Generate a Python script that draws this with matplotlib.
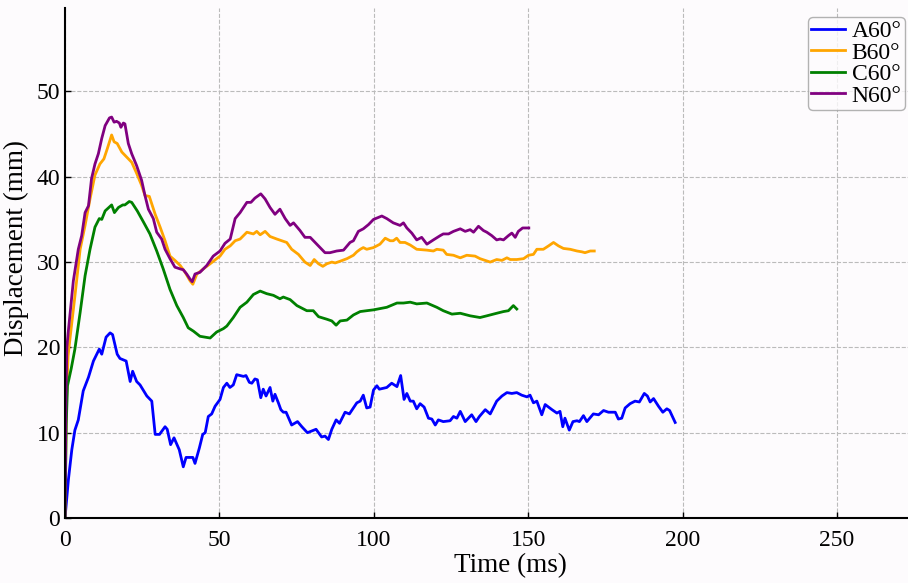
import matplotlib.pyplot as plt

# Curvas (tempo em ms, deslocamento em mm)
t_a = [0, 1.1, 2.2, 3.2, 4.3, 5.9, 7.6, 9.2, 11.1, 11.9, 13.3, 14.6, 15.4, 16.9, 17.8, 19.8,
       21.1, 21.9, 23.2, 24.3, 26.5, 28.1, 29.2, 30.6, 32.4, 33.1, 34.2, 35.3, 37.0, 38.3,
       39.2, 41.4, 42.1, 43.5, 44.6, 45.4, 46.4, 47.5, 48.6, 50.2, 51.3, 52.4, 53.4, 54.5,
       55.6, 56.7, 57.8, 58.6, 59.7, 60.5, 61.5, 62.3, 63.4, 64.2, 65.1, 66.4, 67.3, 68.0,
       69.1, 69.9, 70.7, 71.6, 73.4, 75.3, 76.7, 78.5, 81.3, 83.1, 84.2, 85.3, 86.4, 87.8,
       88.9, 90.7, 92.1, 94.5, 95.6, 96.6, 97.7, 98.8, 99.9, 101.0, 101.8, 104.2, 105.8,
       107.5, 108.7, 109.8, 110.7, 111.8, 112.8, 113.9, 115.0, 116.3, 117.7, 118.8, 119.9,
       120.9, 122.5, 124.7, 125.8, 126.9, 128.0, 129.6, 131.7, 133.1, 134.2, 136.1, 137.7,
       139.8, 141.5, 143.1, 144.7, 146.3, 147.9, 149.6, 150.6, 151.7, 152.8, 154.4, 155.5,
       157.7, 159.3, 160.3, 161.2, 161.9, 163.3, 164.5, 165.8, 166.6, 167.9, 169.0, 171.1,
       172.8, 174.4, 176.0, 178.2, 179.2, 180.3, 181.4, 183.0, 184.6, 186.0, 187.6, 188.6,
       189.5, 190.6, 192.2, 193.6, 194.9, 195.8, 197.6]
a60 = [0, 4.5, 8.0, 10.3, 11.5, 14.9, 16.5, 18.4, 19.8, 19.2, 21.2, 21.7, 21.5, 19.2, 18.7, 18.4,
       16.0, 17.2, 16.0, 15.6, 14.3, 13.7, 9.8, 9.8, 10.7, 10.4, 8.6, 9.4, 8.0, 6.0,
       7.1, 7.1, 6.4, 8.2, 9.8, 10.0, 11.9, 12.2, 13.1, 13.9, 15.3, 15.8, 15.3, 15.6,
       16.8, 16.7, 16.6, 16.7, 15.9, 15.8, 16.3, 16.2, 14.1, 15.1, 14.3, 15.3, 13.7, 14.5,
       13.5, 12.7, 12.4, 12.4, 10.9, 11.3, 10.7, 10.0, 10.4, 9.5, 9.6, 9.2, 10.4, 11.5,
       11.1, 12.4, 12.2, 13.5, 13.7, 14.4, 12.9, 13.0, 15.0, 15.5, 15.1, 15.3, 15.8,
       15.4, 16.7, 13.9, 14.6, 13.7, 13.7, 12.8, 13.4, 13.0, 11.7, 11.6, 10.9,
       11.5, 11.3, 11.4, 11.9, 11.7, 12.5, 11.3, 12.1, 11.3, 11.9, 12.7, 12.2,
       13.7, 14.3, 14.7, 14.6, 14.7, 14.4, 14.2, 14.4, 13.5, 13.7, 12.1, 13.3,
       12.7, 12.3, 12.5, 10.7, 11.7, 10.3, 11.3, 11.4, 11.3, 12.0, 11.3, 12.2,
       12.1, 12.6, 12.4, 12.4, 11.6, 11.7, 12.9, 13.4, 13.7, 13.6, 14.6, 14.3,
       13.6, 14.0, 13.1, 12.4, 12.8, 12.6, 11.2]

t_b = [0, 0.4, 1.0, 1.6, 3.2, 4.9, 6.5, 8.1, 9.7, 11.3, 12.6, 13.7, 15.1, 15.9, 16.9, 18.4,
       20.0, 21.6, 23.2, 24.8, 25.9, 27.3, 29.2, 30.8, 32.4, 34.0, 35.6, 37.3, 38.9, 40.5,
       41.4, 42.7, 44.8, 47.0, 49.1, 50.2, 51.8, 53.5, 55.1, 56.7, 58.9, 61.0, 62.1, 63.2,
       64.8, 66.4, 68.6, 70.2, 71.8, 73.4, 75.6, 77.7, 79.4, 80.7, 82.1, 83.5, 84.8, 86.4,
       87.5, 89.1, 91.3, 93.4, 94.5, 95.6, 96.6, 97.7, 99.9, 102.0, 103.7, 105.3, 106.3,
       107.4, 108.5, 110.1, 111.8, 113.9, 117.2, 119.3, 120.4, 122.5, 123.6, 125.8, 128.0,
       130.1, 132.8, 134.4, 137.7, 139.8, 141.5, 143.1, 144.2, 146.3, 148.5, 150.1, 151.7,
       152.8, 154.9, 156.6, 158.2, 159.8, 161.4, 163.6, 165.8, 167.4, 168.4, 170.1, 171.4]
b60 = [0, 13.0, 19.0, 21.0, 26.0, 31.5, 34.3, 37.4, 40.2, 41.5, 42.1, 43.3, 44.9, 44.1, 43.9, 42.9,
       42.3, 41.7, 40.4, 39.0, 37.8, 37.7, 35.6, 34.1, 32.5, 30.7, 30.2, 29.6, 28.8, 27.8,
       27.4, 28.6, 29.2, 29.8, 30.4, 30.7, 31.5, 31.9, 32.5, 32.7, 33.5, 33.3, 33.6, 33.2,
       33.6, 33.0, 32.7, 32.5, 32.3, 31.5, 30.9, 30.0, 29.6, 30.3, 29.8, 29.5, 29.8, 30.0,
       29.9, 30.1, 30.4, 30.8, 31.2, 31.5, 31.7, 31.5, 31.7, 32.1, 32.8, 32.5, 32.5,
       32.8, 32.3, 32.3, 32.0, 31.5, 31.4, 31.3, 31.5, 31.4, 30.9, 30.8, 30.5,
       30.8, 30.7, 30.4, 30.0, 30.3, 30.2, 30.5, 30.3, 30.3, 30.4, 30.8, 30.9,
       31.5, 31.5, 31.9, 32.3, 31.9, 31.6, 31.5, 31.3, 31.2, 31.1, 31.3, 31.3]

t_c = [0, 0.4, 0.8, 2.0, 3.2, 4.9, 6.5, 8.1, 9.7, 11.1, 11.9, 13.0, 15.1, 16.0, 17.3, 18.7,
       19.4, 20.8, 21.6, 23.4, 25.4, 27.5, 29.7, 31.8, 34.0, 36.2, 38.3, 39.9, 41.6, 43.7,
       47.0, 49.1, 51.3, 52.4, 54.5, 56.7, 58.9, 61.0, 63.2, 65.3, 67.5, 69.6, 70.7, 72.9,
       75.1, 78.3, 80.4, 82.1, 84.8, 86.4, 87.8, 89.1, 91.3, 93.4, 95.6, 97.7, 99.9, 104.2,
       107.5, 109.6, 111.8, 113.9, 117.2, 120.4, 122.5, 125.3, 128.0, 131.2, 134.4, 136.6,
       139.8, 142.0, 143.6, 145.2, 146.3]
c60 = [0, 11.0, 15.5, 17.5, 19.8, 24.1, 28.4, 31.5, 34.1, 35.1, 35.0, 36.0, 36.7, 35.8, 36.4, 36.7,
       36.7, 37.1, 37.0, 36.0, 34.7, 33.3, 31.3, 29.2, 26.8, 24.9, 23.5, 22.3, 21.9, 21.3,
       21.1, 21.8, 22.2, 22.5, 23.5, 24.7, 25.3, 26.2, 26.6, 26.3, 26.1, 25.7, 25.9, 25.6,
       24.9, 24.3, 24.3, 23.6, 23.3, 23.1, 22.6, 23.1, 23.2, 23.8, 24.2, 24.3, 24.4, 24.7,
       25.2, 25.2, 25.3, 25.1, 25.2, 24.7, 24.3, 23.9, 24.0, 23.7, 23.5, 23.7,
       24.0, 24.2, 24.3, 24.9, 24.5]

t_n = [0, 0.3, 0.6, 1.1, 2.7, 4.3, 5.4, 6.5, 7.6, 8.6, 9.7, 10.8, 11.9, 13.0, 14.4, 15.1, 15.9,
       16.7, 17.6, 18.1, 18.9, 19.4, 20.5, 21.6, 23.2, 24.8, 25.9, 27.0, 28.6, 29.7, 31.3,
       32.4, 34.0, 35.6, 37.3, 38.3, 39.4, 40.5, 41.2, 42.1, 43.7, 45.9, 48.0, 50.2, 51.8,
       53.5, 55.1, 56.7, 58.9, 60.2, 61.5, 63.4, 64.8, 66.4, 68.0, 69.6, 71.3, 72.9, 74.0,
       76.1, 77.7, 79.4, 81.0, 82.6, 84.2, 85.8, 88.0, 90.2, 92.3, 93.4, 95.0, 96.6, 98.3,
       99.9, 102.6, 104.2, 106.3, 108.5, 109.6, 110.7, 112.3, 113.9, 115.5, 117.2, 119.3,
       121.5, 122.5, 124.2, 125.8, 128.0, 129.6, 131.2, 132.3, 133.9, 135.5, 136.6, 138.2,
       139.8, 140.9, 142.0, 143.6, 144.7, 145.8, 146.8, 148.2, 150.2]
n60 = [0, 14.0, 20.0, 22.0, 27.8, 31.5, 33.1, 35.8, 36.6, 39.8, 41.5, 42.7, 44.5, 46.0, 46.9, 47.0, 46.4,
       46.5, 46.3, 45.8, 46.3, 46.2, 43.9, 42.7, 41.3, 39.6, 37.8, 36.2, 35.1, 33.5, 32.7,
       31.5, 30.4, 29.4, 29.2, 29.1, 28.6, 28.0, 27.7, 28.6, 28.8, 29.6, 30.7, 31.3, 32.2,
       32.7, 35.1, 35.8, 37.0, 37.0, 37.5, 38.0, 37.4, 36.4, 35.6, 36.2, 35.1, 34.3, 34.6,
       33.7, 32.9, 32.9, 32.3, 31.7, 31.1, 31.1, 31.3, 31.4, 32.3, 32.5, 33.6, 33.9, 34.4,
       35.0, 35.4, 35.1, 34.6, 34.3, 34.6, 34.0, 33.4, 32.6, 32.9, 32.1, 32.6,
       33.1, 33.3, 33.3, 33.6, 33.9, 33.6, 33.8, 33.5, 34.2, 33.7, 33.5, 33.1,
       32.6, 32.7, 32.6, 33.1, 33.4, 32.9, 33.6, 34.0, 34.0]

plt.rcParams['font.family'] = ['Liberation Serif', 'DejaVu Serif']

fundo = '#fdfbfd'
fig = plt.figure(figsize=(9.08, 5.83), dpi=100, facecolor=fundo)
ax = fig.add_axes([0.0716, 0.1115, 0.9284, 0.875])
ax.set_facecolor(fundo)

ax.plot(t_a, a60, color='blue', lw=2, label='A60°')
ax.plot(t_b, b60, color='orange', lw=2, label='B60°')
ax.plot(t_c, c60, color='green', lw=2, label='C60°')
ax.plot(t_n, n60, color='purple', lw=2, label='N60°')

ax.set_xlim(0, 273)
ax.set_ylim(0, 59.8)
ax.set_xticks([0, 50, 100, 150, 200, 250])
ax.set_yticks([0, 10, 20, 30, 40, 50])
ax.tick_params(direction='in', labelsize=17, length=4, width=1)
ax.tick_params(axis='x', pad=9)
ax.grid(True, linestyle='--', color='#bbbbbb', lw=0.8)

for lado in ['top', 'right']:
    ax.spines[lado].set_visible(False)
for lado in ['left', 'bottom']:
    ax.spines[lado].set_linewidth(1.5)

ax.set_xlabel('Time (ms)', fontsize=19.5)
ax.set_ylabel('Displacement (mm)', fontsize=19.5)
ax.xaxis.set_label_coords(0.528, -0.068)
ax.yaxis.set_label_coords(-0.043, 0.53)

leg = ax.legend(loc='upper right', fontsize=17, frameon=True, handlelength=1.4,
                handletextpad=0.3, borderpad=0.15, labelspacing=0.0, borderaxespad=0,
                bbox_to_anchor=(905 / 908, (583 - 17) / 583), bbox_transform=fig.transFigure)
leg.get_frame().set_edgecolor('#a0a0a0')
leg.get_frame().set_facecolor(fundo)

plt.savefig('out.png', dpi=100, facecolor=fundo)
